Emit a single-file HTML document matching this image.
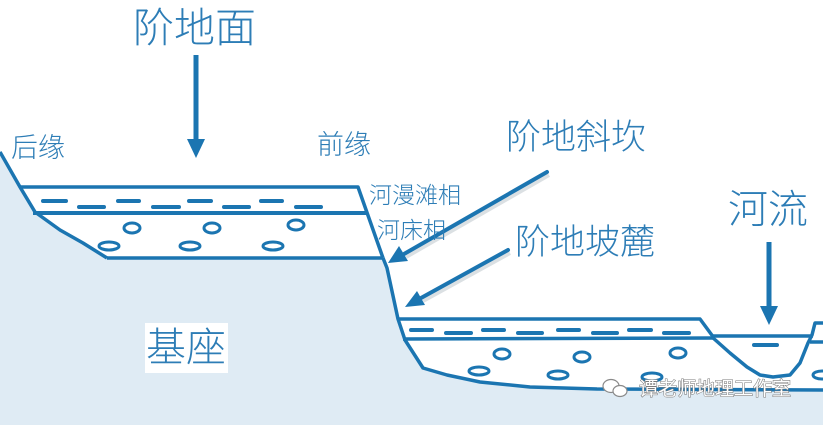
<!DOCTYPE html>
<html><head><meta charset="utf-8"><style>
html,body{margin:0;padding:0;background:#fff;}
svg{display:block;}
text{font-family:"Liberation Sans","Noto Sans CJK SC",sans-serif;font-weight:300;fill:#2d7db6;}
</style></head><body>
<svg width="823" height="425" viewBox="0 0 823 425" xmlns="http://www.w3.org/2000/svg">
<rect width="823" height="425" fill="#fff"/>
<!-- bedrock -->
<path d="M0,150 L20,187 L35,212 L60,230 L83,243 L107,258 L383,258 L387,268 L398,319 L405,340 L423,368 L447,375 L480,382 L530,387 L597,389 L823,390 L823,425 L0,425 Z" fill="#dfebf4"/>
<g fill="none" stroke="#1b75b1" stroke-width="3.5" stroke-linejoin="round">
<!-- upper terrace -->
<path d="M0,152 L20,187 L35,212 L60,230 L83,243 L107,258"/>
<path d="M20,187 L358,187 L383,258"/>
<path d="M33,213 L367,213" stroke-width="4"/>
<path d="M107,258 L383,258"/>
<!-- scarp + lower -->
<path d="M383,258 L387,268 L398,319 L405,340 L423,368 L447,375 L480,382 L530,387 L597,389 L823,390"/>
<path d="M398,319 L700,319 L714,338"/>
<path d="M403,339 L714,338"/>
<path d="M712,337 L730,353 L747,367 L760,375 L773,377 L790,375 L800,363 L808,343 L812,335 L815,323 L823,323"/>
<path d="M712,336 L813,336"/>
<path d="M810,342 L823,342"/>
</g>
<!-- dashes -->
<g stroke="#1b75b1" stroke-width="4" stroke-linecap="round">
<path d="M43,201H66M118,201H139M189,201H211M261,201H282"/>
<path d="M79,207H104M153,207H179M224,207H249M296,207H321"/>
<path d="M411,330H432M483,330H504M558,330H579M629,330H651"/>
<path d="M446,333H471M518,333H542M593,333H617M664,333H689"/>
<path d="M754,345H777"/>
</g>
<!-- pebbles -->
<g fill="none" stroke="#1b75b1" stroke-width="3">
<ellipse cx="132" cy="228" rx="8" ry="5"/>
<ellipse cx="212" cy="228" rx="8" ry="5"/>
<ellipse cx="296" cy="225" rx="8" ry="5"/>
<ellipse cx="109" cy="246" rx="10" ry="4"/>
<ellipse cx="190" cy="246" rx="10" ry="4"/>
<ellipse cx="273" cy="246" rx="10" ry="4"/>
<ellipse cx="502" cy="354" rx="8" ry="5"/>
<ellipse cx="582" cy="357" rx="8" ry="5"/>
<ellipse cx="678" cy="353" rx="8" ry="5"/>
<ellipse cx="479" cy="371" rx="10" ry="4"/>
<ellipse cx="558" cy="375" rx="10" ry="4"/>
<ellipse cx="652" cy="377" rx="10" ry="4"/>
<ellipse cx="822" cy="375" rx="9" ry="4"/>
</g>
<!-- arrows -->
<g fill="#1b75b1" stroke="none">
<rect x="193.5" y="55" width="5" height="87"/>
<polygon points="187,139 205,139 196,158"/>
<rect x="766.5" y="242" width="5" height="68"/>
<polygon points="760,306 778,306 769,325"/>
</g>
<g stroke="#9aa7b0" stroke-width="4" opacity="0.35">
<line x1="549" y1="175" x2="406" y2="257"/>
<line x1="510" y1="253" x2="423" y2="301"/>
</g>
<g stroke="#1b75b1" stroke-width="4" stroke-linecap="round">
<line x1="547" y1="172" x2="404" y2="254"/>
<line x1="508" y1="250" x2="421" y2="298"/>
</g>
<g fill="#1b75b1">
<polygon points="388,263 408,261 399,246"/>
<polygon points="405,307 425,305 417,291"/>
</g>
<!-- labels -->
<text x="133" y="42" font-size="41">阶地面</text>
<text x="11" y="157" font-size="27">后缘</text>
<text x="317" y="154" font-size="27">前缘</text>
<text x="369" y="203" font-size="23">河漫滩相</text>
<text x="377" y="238" font-size="23">河床相</text>
<text x="506" y="149" font-size="35">阶地斜坎</text>
<text x="515" y="254" font-size="35">阶地坡麓</text>
<text x="728" y="223" font-size="40">河流</text>
<rect x="145" y="323" width="83" height="50" fill="#fff"/>
<text x="146" y="361" font-size="40">基座</text>
<!-- watermark -->
<g fill="#fff" stroke="#8a8a8a" stroke-width="1.2">
<ellipse cx="611" cy="386" rx="8" ry="6.5"/>
<ellipse cx="620" cy="391" rx="7" ry="5.5"/>
</g>
<text x="639" y="395" font-size="19" style="fill:#fff;stroke:#7a7a7a;stroke-width:1.1px;paint-order:stroke;font-weight:400">谭老师地理工作室</text>
</svg>
</body></html>
